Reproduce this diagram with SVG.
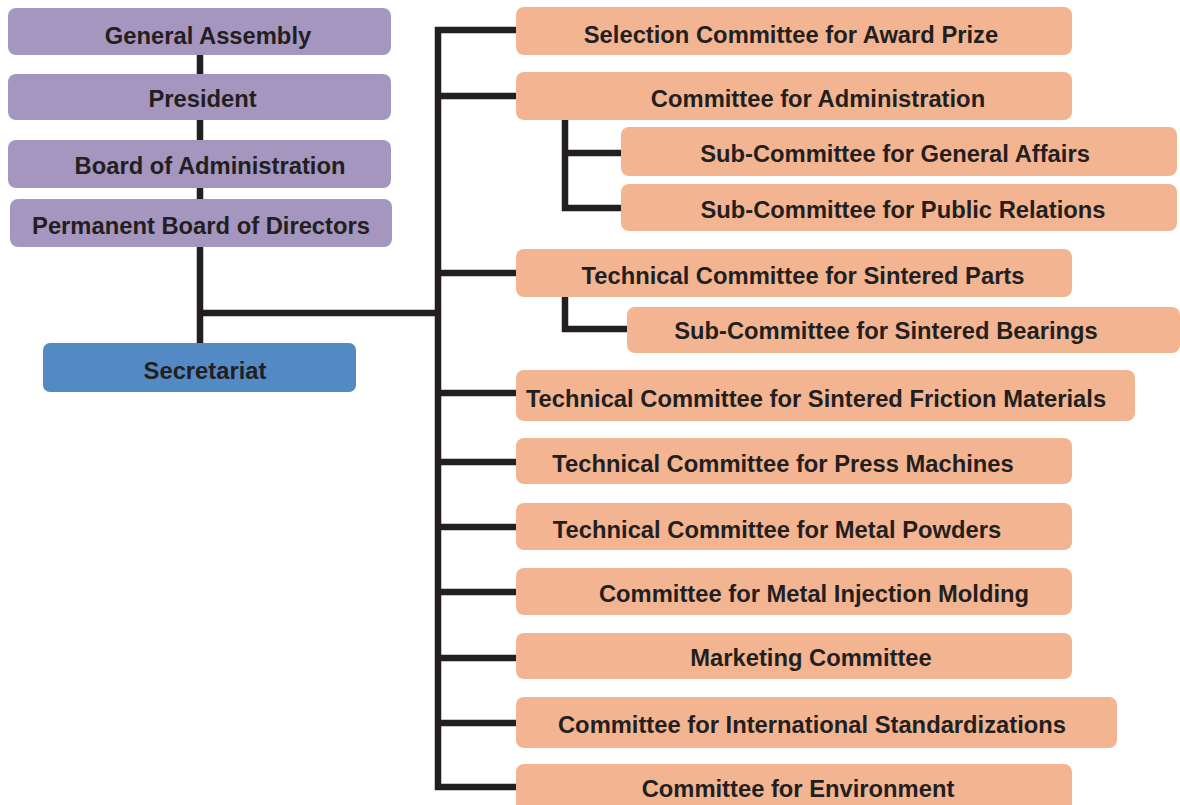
<svg xmlns="http://www.w3.org/2000/svg" width="1180" height="805" viewBox="0 0 1180 805">
<style>
.p{fill:#A596BF}
.o{fill:#F3B591}
.b{fill:#5389C5}
.t{font-family:"Liberation Sans",Arial,sans-serif;font-weight:bold;font-size:23.75px;fill:#231F20;text-anchor:middle}
.c{fill:none;stroke:#231F20;stroke-width:6.5;stroke-linejoin:miter;stroke-linecap:butt}
</style>
<rect width="1180" height="805" fill="#ffffff"/>
<g id="connectors">
<path class="c" d="M200,55 V343 M200,313 H438"/>
<path class="c" d="M516,30 H438 V787 H516"/>
<path class="c" d="M438,96 H516 M438,273 H516 M438,393 H516 M438,462 H516 M438,527 H516 M438,592 H516 M438,658 H516 M438,723 H516"/>
<path class="c" d="M565,120 V208 H621 M565,153 H621"/>
<path class="c" d="M565,297 V329 H627"/>
</g>
<g id="general-assembly"><rect class="p" x="8" y="8" width="383" height="47" rx="8"/><text class="t" x="208" y="44">General Assembly</text></g>
<g id="president"><rect class="p" x="8" y="74" width="383" height="46" rx="8"/><text class="t" x="202.5" y="107">President</text></g>
<g id="board-of-administration"><rect class="p" x="8" y="140" width="383" height="48" rx="8"/><text class="t" x="210" y="174">Board of Administration</text></g>
<g id="permanent-board"><rect class="p" x="10" y="199" width="382" height="48" rx="8"/><text class="t" x="201" y="234">Permanent Board of Directors</text></g>
<g id="secretariat"><rect class="b" x="43" y="343" width="313" height="49" rx="7"/><text class="t" x="205" y="379">Secretariat</text></g>
<g id="selection-committee"><rect class="o" x="516" y="7" width="556" height="48" rx="8"/><text class="t" x="791" y="43">Selection Committee for Award Prize</text></g>
<g id="committee-administration"><rect class="o" x="516" y="72" width="556" height="48" rx="8"/><text class="t" x="818" y="107">Committee for Administration</text></g>
<g id="sub-general-affairs"><rect class="o" x="621" y="127" width="556" height="49" rx="8"/><text class="t" x="895" y="162">Sub-Committee for General Affairs</text></g>
<g id="sub-public-relations"><rect class="o" x="621" y="184" width="556" height="47" rx="8"/><text class="t" x="903" y="218">Sub-Committee for Public Relations</text></g>
<g id="tc-sintered-parts"><rect class="o" x="516" y="249" width="556" height="48" rx="8"/><text class="t" x="803" y="284">Technical Committee for Sintered Parts</text></g>
<g id="sub-sintered-bearings"><rect class="o" x="627" y="307" width="553" height="46" rx="8"/><text class="t" x="886" y="339">Sub-Committee for Sintered Bearings</text></g>
<g id="tc-friction"><rect class="o" x="516" y="370" width="619" height="51" rx="8"/><text class="t" x="816" y="407">Technical Committee for Sintered Friction Materials</text></g>
<g id="tc-press"><rect class="o" x="516" y="438" width="556" height="46" rx="8"/><text class="t" x="783" y="472">Technical Committee for Press Machines</text></g>
<g id="tc-powders"><rect class="o" x="516" y="503" width="556" height="47" rx="8"/><text class="t" x="777" y="538">Technical Committee for Metal Powders</text></g>
<g id="committee-mim"><rect class="o" x="516" y="568" width="556" height="47" rx="8"/><text class="t" x="814" y="602">Committee for Metal Injection Molding</text></g>
<g id="marketing"><rect class="o" x="516" y="633" width="556" height="46" rx="8"/><text class="t" x="811" y="666">Marketing Committee</text></g>
<g id="committee-standardizations"><rect class="o" x="516" y="697" width="601" height="51" rx="8"/><text class="t" x="812" y="733">Committee for International Standardizations</text></g>
<g id="committee-environment"><rect class="o" x="516" y="764" width="556" height="50" rx="8"/><text class="t" x="798" y="797">Committee for Environment</text></g>
</svg>
